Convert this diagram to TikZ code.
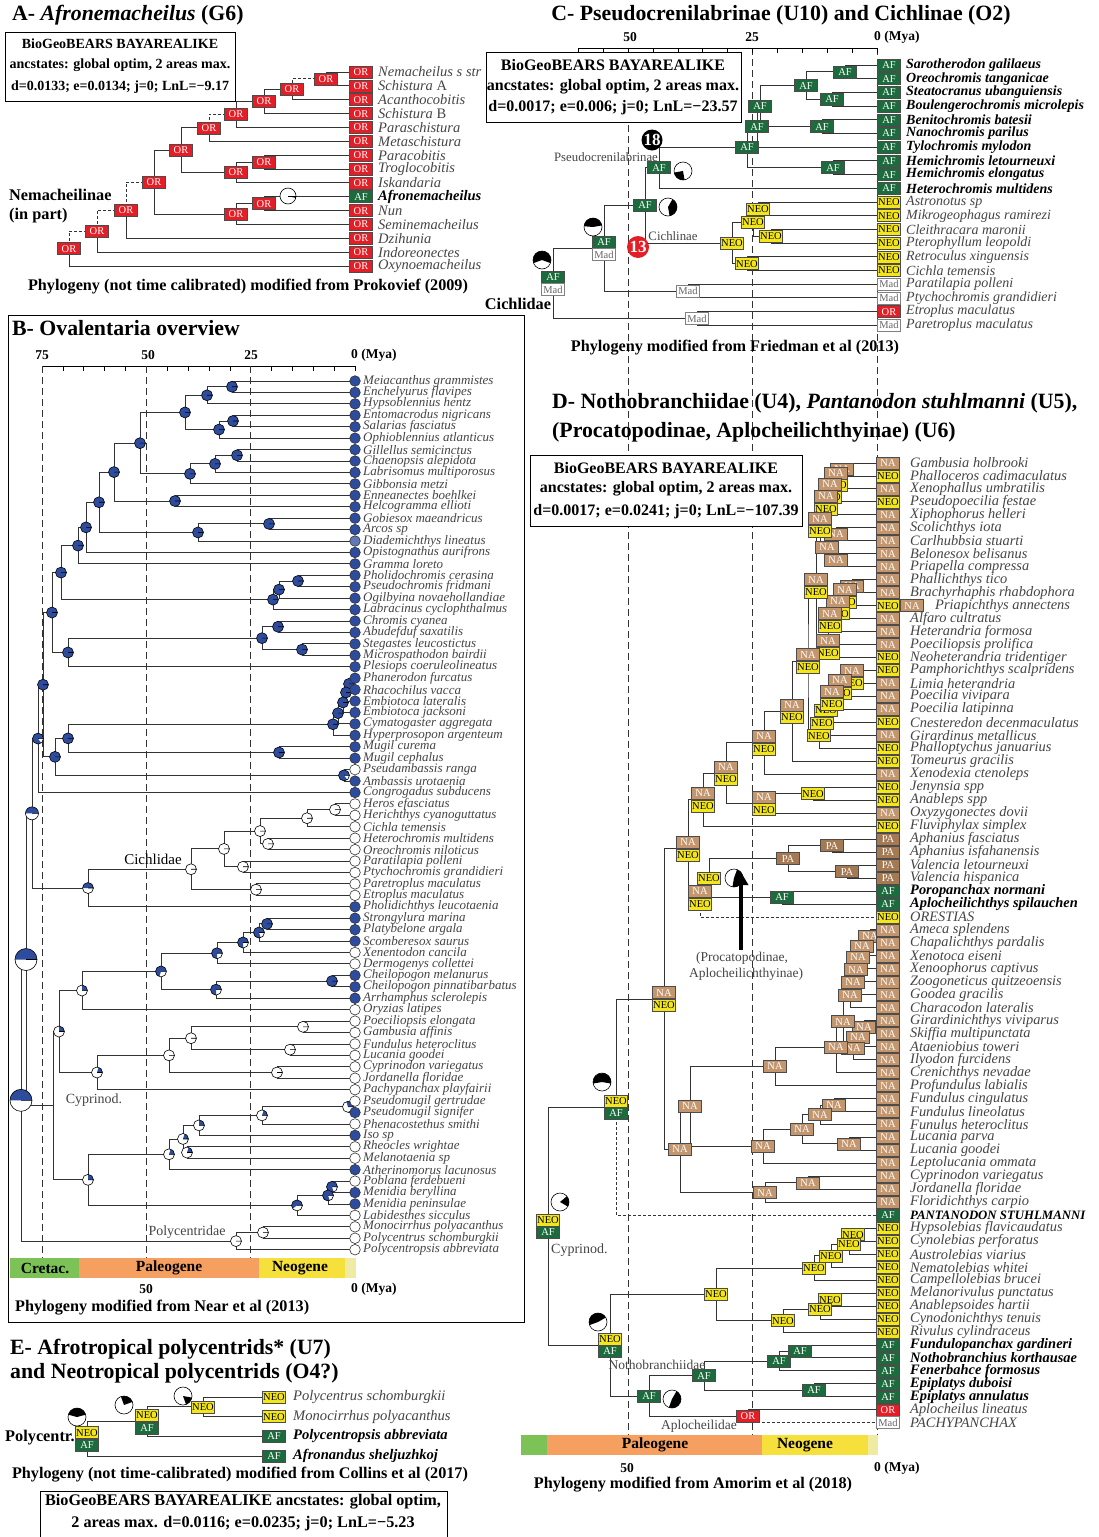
\documentclass[tikz,border=0pt]{standalone}
\usepackage{fontspec}
\setmainfont{Liberation Serif}
\usetikzlibrary{calc,arrows.meta}

% area colours
\definecolor{orred}{HTML}{E41E26}
\definecolor{afgreen}{HTML}{1B6B3C}
\definecolor{neoyel}{HTML}{F4E61C}
\definecolor{natan}{HTML}{C4966E}
\definecolor{pabrown}{HTML}{A57A52}
\definecolor{pieblue}{HTML}{2E4C9E}
\definecolor{tipgray}{HTML}{454545}
\definecolor{cretac}{HTML}{7DC257}
\definecolor{paleo}{HTML}{F5A060}
\definecolor{neog}{HTML}{F5E03C}
\definecolor{quat}{HTML}{F0EBA2}
\colorlet{tb}{pieblue}
\colorlet{tw}{white}
\colorlet{td}{pieblue!75!white}

\tikzset{
  tree/.style={line width=0.9pt, draw=black!80},
  dsh/.style={dash pattern=on 3pt off 2pt},
  timeline/.style={line width=0.7pt, draw=black!80, dash pattern=on 7pt off 4pt},
  sbox/.style={draw=black!70, line width=0.6pt, minimum width=23pt, minimum height=12pt,
    inner sep=0pt, font=\fontsize{10.5}{10.5}\selectfont},
  stOR/.style={sbox, fill=orred, text=white},
  stAF/.style={sbox, fill=afgreen, text=white},
  stNEO/.style={sbox, fill=neoyel, text=black},
  stNA/.style={sbox, fill=natan, text=white},
  stPA/.style={sbox, fill=pabrown, text=white},
  stMad/.style={sbox, fill=white, draw=black!50, text=black!60},
  tipA/.style={anchor=west, inner sep=0pt, text=tipgray, font=\fontsize{14.5}{14.5}\selectfont\itshape},
  tipB/.style={anchor=west, inner sep=0pt, text=tipgray, font=\fontsize{13}{13}\selectfont\itshape},
  tipC/.style={anchor=west, inner sep=0pt, text=tipgray, font=\fontsize{14}{14}\selectfont\itshape},
  tipD/.style={anchor=west, inner sep=0pt, text=tipgray, font=\fontsize{14.4}{14.4}\selectfont\itshape},
  tipE/.style={anchor=west, inner sep=0pt, text=tipgray, font=\fontsize{14.6}{14.6}\selectfont\itshape},
  title/.style={anchor=west, inner sep=0pt, font=\fontsize{21.8}{21.8}\selectfont\bfseries},
  caption/.style={inner sep=0pt, font=\fontsize{16.2}{16.2}\selectfont\bfseries},
  boxtxt/.style={inner sep=0pt, font=\fontsize{16}{16}\selectfont\bfseries},
  age/.style={inner sep=0pt, font=\fontsize{13.5}{13.5}\selectfont\bfseries},
  era/.style={inner sep=0pt, font=\fontsize{15.5}{15.5}\selectfont\bfseries},
  clade/.style={inner sep=0pt, text=tipgray, font=\fontsize{14}{14}\selectfont},
  bclade/.style={inner sep=0pt, text=black, font=\fontsize{16.3}{16.3}\selectfont\bfseries},
  smallclade/.style={inner sep=0pt, text=tipgray, font=\fontsize{12.8}{12.8}\selectfont},
}

% internal node halfway between its outer children, elbow branches to both
\newcommand{\ndx}[6]{%
  \path let \p1 = ($(#3)!.5!(#4)$) in (#2pt,\y1) coordinate (#1);
  \draw[tree,#5] (#3) -| (#1);
  \draw[tree,#6] (#1) |- (#4);
}
\newcommand{\nd}[4]{\ndx{#1}{#2}{#3}{#4}{}{}}
% internal node at a given height
\newcommand{\ndy}[5]{%
  \coordinate (#1) at (#2,#3);
  \draw[tree] (#4) -| (#1) |- (#5);
}
% range boxes
\newcommand{\stbox}[2]{\node[st#2] (#1-s) at (#1) {#2};}
\newcommand{\stpair}[3]{%
  \node[st#2, anchor=south] (#1-u) at (#1) {#2};
  \node[st#3, anchor=north] (#1-l) at (#1) {#3};}
% blue pie, blue part from east anticlockwise
\newcommand{\piebl}[3]{%
  \fill[white] (#1) circle (#2);
  \fill[pieblue] (#1) -- ++(0:#2) arc (0:360*#3:#2) -- cycle;
  \draw[line width=0.6pt] (#1) circle (#2) (#1) -- ++(0:#2);}
% black and white pie
\newcommand{\piebw}[4]{%
  \fill[white] (#1) circle (#2);
  \fill (#1) -- ++(#3:#2) arc (#3:#4:#2) -- cycle;
  \draw[line width=0.6pt] (#1) circle (#2);}
\newcommand{\boldsp}[1]{{\color{black}\bfseries #1}}

\begin{document}
\begin{tikzpicture}[x=1pt, y=-1pt]
\useasboundingbox (0,0) rectangle (1099,1537);
\fill[white] (0,0) rectangle (1099,1537);

%%%%%%%%%%%%%%%% panel A
\node[title] (titA) at (12,15) {A- \textit{Afronemacheilus} (G6)};
\draw[line width=0.8pt] (5,32) rectangle (235,101);
\node[boxtxt, font=\fontsize{14}{14}\selectfont\bfseries] (boxA1) at (120,44) {BioGeoBEARS BAYAREALIKE};
\node[boxtxt, font=\fontsize{14}{14}\selectfont\bfseries] (boxA2) at (120,65) {ancstates: global optim, 2 areas max.};
\node[boxtxt, font=\fontsize{14}{14}\selectfont\bfseries] (boxA3) at (120,87) {d=0.0133; e=0.0134; j=0; LnL=−9.17};

% tips
\foreach \nam [count=\i] in {Nemacheilus s str, {Schistura \upshape A}, Acanthocobitis,
  {Schistura \upshape B}, Paraschistura, Metaschistura, Paracobitis, Troglocobitis, Iskandaria,
  \boldsp{Afronemacheilus}, Nun, Seminemacheilus, Dzihunia, Indoreonectes, Oxynoemacheilus}{
  \coordinate (ta\i) at (361, {72+13.86*(\i-1)});
  \node[tipA] (la\i) at (378, {72+13.86*(\i-1)}) {\nam};
}

% tree
\nd{a1}{326}{ta1}{ta2}
\ndx{a2}{292}{a1}{ta3}{dsh}{}
\nd{a3}{264}{a2}{ta4}
\nd{a4}{236}{a3}{ta5}
\ndx{a5}{209}{a4}{ta6}{dsh}{}
\nd{a7}{264}{ta7}{ta8}
\nd{a8}{236}{a7}{ta9}
\nd{a6}{181}{a5}{a8}
\nd{a9}{264}{ta10}{ta11}
\nd{a10}{236}{a9}{ta12}
\nd{a11}{154}{a6}{a10}
\ndx{a12}{126}{a11}{ta13}{dsh}{}
\ndx{a13}{97}{a12}{ta14}{dsh}{}
\ndx{a14}{69}{a13}{ta15}{dsh}{}

\piebw{288,196}{8pt}{-14}{0}
\draw[line width=0.6pt] (288,196) -- ++(0:8pt);
\foreach \n in {a1,a2,a3,a4,a5,a6,a7,a8,a9,a10,a11,a12,a13,a14} {\stbox{\n}{OR}}
\foreach \sta [count=\i] in {OR,OR,OR,OR,OR,OR,OR,OR,OR,AF,OR,OR,OR,OR,OR}
  {\edef\boxcall{\noexpand\stbox{ta\i}{\sta}}\boxcall}

\node[bclade, anchor=west] (nemA) at (9,195) {Nemacheilinae};
\node[bclade, anchor=west] (nemB) at (9,216) {(in part)};
\node[caption] (capA) at (248,287) {Phylogeny (not time calibrated) modified from Prokovief (2009)};

%%%%%%%%%%%%%%%% time lines shared by panels C and D
\foreach \x in {628,752,877} \draw[timeline] (\x,48) -- (\x,1435);

%%%%%%%%%%%%%%%% panel C
\node[title, anchor=center] (titC) at (781,15) {C- Pseudocrenilabrinae (U10) and Cichlinae (O2)};
\draw[line width=0.8pt] (578,48) -- (877,48);
\foreach \i in {0,...,12} \draw[line width=0.6pt] ({877-\i*24.9},48) -- ++(0,5);
\node[age] (ageC50) at (630,37) {50};
\node[age] (ageC25) at (752,37) {25};
\node[age, anchor=west] (ageC0) at (874,37) {0 (Mya)};

\foreach \nam [count=\i] in {\boldsp{Sarotherodon galilaeus}, \boldsp{Oreochromis tanganicae},
  \boldsp{Steatocranus ubanguiensis}, \boldsp{Boulengerochromis microlepis}, \boldsp{Benitochromis batesii},
  \boldsp{Nanochromis parilus}, \boldsp{Tylochromis mylodon}, \boldsp{Hemichromis letourneuxi},
  \boldsp{Hemichromis elongatus}, \boldsp{Heterochromis multidens}, Astronotus sp, Mikrogeophagus ramirezi,
  Cleithracara maronii, Pterophyllum leopoldi, Retroculus xinguensis, Cichla temensis, Paratilapia polleni,
  Ptychochromis grandidieri, Etroplus maculatus, Paretroplus maculatus}{
  \coordinate (tc\i) at (889, {65+13.7*(\i-1)});
  \node[tipC] (lc\i) at (906, {65+13.7*(\i-1)}) {\nam};
}

\nd{c1}{845}{tc1}{tc2}
\nd{c2}{832}{tc3}{tc4}
\nd{c3}{806}{c1}{c2}
\nd{c5}{822}{tc5}{tc6}
\nd{c4}{760}{c3}{c5}
\nd{c7}{757}{c4}{tc7}
\nd{c6}{833}{tc8}{tc9}
\nd{c7b}{747}{c7}{c6}
\nd{c8}{659}{c7b}{tc10}
\nd{cA}{758}{tc11}{tc12}
\nd{cB}{771}{tc13}{tc14}
\nd{cC}{753}{cA}{cB}
\nd{cD}{747}{tc15}{tc16}
\nd{cE}{732}{cC}{cD}
\nd{c9}{645}{c8}{cE}
\nd{cM1}{688}{tc17}{tc18}
\nd{c10}{604}{c9}{cM1}
\nd{cM2}{697}{tc19}{tc20}
\nd{c11}{553}{c10}{cM2}

% info box
\draw[line width=0.8pt, fill=white] (486,52) rectangle (741,122);
\node[boxtxt] (boxC1) at (613,65) {BioGeoBEARS BAYAREALIKE};
\node[boxtxt] (boxC2) at (613,87) {ancstates: global optim, 2 areas max.};
\node[boxtxt] (boxC3) at (613,108) {d=0.0017; e=0.006; j=0; LnL=−23.57};

\foreach \n in {c1,c2,c3,c5,c4,c7,c6,c7b,c8,c9} {\stbox{\n}{AF}}
\foreach \n in {cA,cB,cC,cD,cE} {\stbox{\n}{NEO}}
\stbox{cM1}{Mad}
\stbox{cM2}{Mad}
\stpair{c10}{AF}{Mad}
\stpair{c11}{AF}{Mad}
\foreach \sta [count=\i] in {AF,AF,AF,AF,AF,AF,AF,AF,AF,AF,NEO,NEO,NEO,NEO,NEO,NEO,Mad,Mad,OR,Mad}
  {\edef\boxcall{\noexpand\stbox{tc\i}{\sta}}\boxcall}

\piebw{683,171}{9pt}{190}{280}
\piebw{668,207}{9pt}{-80}{60}
\piebw{593,227}{9pt}{10}{175}
\piebw{542,260}{9pt}{-20}{200}
\node[circle, fill=black, text=white, inner sep=0pt, minimum size=21pt,
  font=\fontsize{17}{17}\selectfont\bfseries] (m18) at (652,140) {18};
\node[circle, fill=orred, text=white, inner sep=0pt, minimum size=22pt,
  font=\fontsize{17}{17}\selectfont\bfseries] (m13) at (638,247) {13};
\node[smallclade] (pseudoL) at (606,157) {Pseudocrenilabrinae};
\node[smallclade] (cichlL) at (673,236) {Cichlinae};
\node[bclade] (cichC) at (518,304) {Cichlidae};
\node[caption] (capC) at (735,348) {Phylogeny modified from Friedman et al (2013)};

%%%%%%%%%%%%%%%% panel B
\draw[line width=0.8pt] (8,315) rectangle (524,1322);
\node[title] (titB) at (12,328) {B- Ovalentaria overview};
\draw[line width=0.8pt] (42,366) -- (355,366);
\foreach \i in {0,...,15} \draw[line width=0.6pt] ({42+\i*20.87},366) -- ++(0,5);
\node[age] (ageB75) at (42,355) {75};
\node[age] (ageB50) at (148,355) {50};
\node[age] (ageB25) at (251,355) {25};
\node[age, anchor=west] (ageB0) at (351,355) {0 (Mya)};
\foreach \x in {42,146,250} \draw[timeline] (\x,366) -- (\x,1258);

\foreach \nam [count=\i] in {Meiacanthus grammistes, Enchelyurus flavipes, Hypsoblennius hentz,
  Entomacrodus nigricans, Salarias fasciatus, Ophioblennius atlanticus, Gillellus semicinctus,
  Chaenopsis alepidota, Labrisomus multiporosus, Gibbonsia metzi, Enneanectes boehlkei, Helcogramma ellioti,
  Gobiesox maeandricus, Arcos sp, Diademichthys lineatus, Opistognathus aurifrons, Gramma loreto,
  Pholidochromis cerasina, Pseudochromis fridmani, Ogilbyina novaehollandiae, Labracinus cyclophthalmus,
  Chromis cyanea, Abudefduf saxatilis, Stegastes leucostictus, Microspathodon bairdii,
  Plesiops coeruleolineatus, Phanerodon furcatus, Rhacochilus vacca, Embiotoca lateralis,
  Embiotoca jacksoni, Cymatogaster aggregata, Hyperprosopon argenteum, Mugil curema, Mugil cephalus,
  Pseudambassis ranga, Ambassis urotaenia, Congrogadus subducens, Heros efasciatus,
  Herichthys cyanoguttatus, Cichla temensis, Heterochromis multidens, Oreochromis niloticus,
  Paratilapia polleni, Ptychochromis grandidieri, Paretroplus maculatus, Etroplus maculatus,
  Pholidichthys leucotaenia, Strongylura marina, Platybelone argala, Scomberesox saurus,
  Xenentodon cancila, Dermogenys collettei, Cheilopogon melanurus, Cheilopogon pinnatibarbatus,
  Arrhamphus sclerolepis, Oryzias latipes, Poeciliopsis elongata, Gambusia affinis,
  Fundulus heteroclitus, Lucania goodei, Cyprinodon variegatus, Jordanella floridae,
  Pachypanchax playfairii, Pseudomugil gertrudae, Pseudomugil signifer, Phenacostethus smithi, Iso sp,
  Rheocles wrightae, Melanotaenia sp, Atherinomorus lacunosus, Poblana ferdebueni, Menidia beryllina,
  Menidia peninsulae, Labidesthes sicculus, Monocirrhus polyacanthus, Polycentrus schomburgkii,
  Polycentropsis abbreviata}{
  \coordinate (tb\i) at (355, {381+11.43*(\i-1)});
  \node[tipB] (lb\i) at (363, {381+11.43*(\i-1)}) {\nam};
}

% blennies to pomacentrids
\nd{bU1}{232}{tb1}{tb2}
\nd{bU2}{207}{bU1}{tb3}
\nd{bU3}{233}{tb4}{tb5}
\nd{bU4}{219}{bU3}{tb6}
\nd{bU5}{185}{bU2}{bU4}
\nd{bU6}{237}{tb7}{tb8}
\nd{bU7}{215}{bU6}{tb9}
\nd{bU8}{190}{bU7}{tb10}
\nd{bU9}{140}{bU5}{bU8}
\nd{bU10}{175}{tb11}{tb12}
\nd{bU11}{114}{bU9}{bU10}
\nd{bU12}{269}{tb13}{tb14}
\nd{bU13}{198}{bU12}{tb15}
\nd{bU14}{99}{bU11}{bU13}
\nd{bU15}{86}{bU14}{tb16}
\nd{bU16}{78}{bU15}{tb17}
\nd{bU17}{298}{tb18}{tb19}
\nd{bU18}{279}{bU17}{tb20}
\nd{bU19}{273}{bU18}{tb21}
\nd{bU20}{61}{bU16}{bU19}
\nd{bU21}{278}{tb22}{tb23}
\nd{bU22}{302}{tb24}{tb25}
\nd{bU23}{262}{bU21}{bU22}
\nd{bU24}{68}{bU23}{tb26}
\nd{bU25}{52}{bU20}{bU24}
% surfperches, mullets, glassfishes
\nd{bE1}{349}{tb27}{tb28}
\nd{bE2}{346}{bE1}{tb29}
\nd{bE3}{343}{bE2}{tb30}
\nd{bE4}{338}{bE3}{tb31}
\nd{bE5}{333}{bE4}{tb32}
\nd{bMg}{279}{tb33}{tb34}
\nd{bE6}{68}{bE5}{bMg}
\nd{bAm}{344}{tb35}{tb36}
\nd{bE7}{55}{bE6}{bAm}
\nd{bU26}{43}{bU25}{bE7}
\nd{bU27}{38}{bU26}{tb37}
% cichlids
\nd{bL1}{335}{tb38}{tb39}
\nd{bL2}{307}{bL1}{tb40}
\nd{bL3}{268}{tb41}{tb42}
\nd{bL4}{260}{bL2}{bL3}
\nd{bL5}{243}{tb43}{tb44}
\nd{bL6}{224}{bL4}{bL5}
\nd{bL7}{256}{tb45}{tb46}
\nd{bL8}{191}{bL6}{bL7}
\nd{bL9}{88}{bL8}{tb47}
\nd{bU}{32}{bU27}{bL9}
% beloniforms
\nd{bM1}{267}{tb48}{tb49}
\nd{bM2}{259}{bM1}{tb50}
\nd{bM3}{243}{bM2}{tb51}
\nd{bM4}{217}{bM3}{tb52}
\nd{bM5}{332}{tb53}{tb54}
\nd{bM6}{216}{bM5}{tb55}
\nd{bM7}{161}{bM4}{bM6}
\nd{bM8}{82}{bM7}{tb56}
% cyprinodontiforms
\nd{bC1}{303}{tb57}{tb58}
\nd{bC2}{290}{tb59}{tb60}
\nd{bC3}{191}{bC1}{bC2}
\nd{bC4}{277}{tb61}{tb62}
\nd{bC5}{169}{bC3}{bC4}
\nd{bC6}{97}{bC5}{tb63}
\nd{bC7}{59}{bM8}{bC6}
% atheriniforms
\nd{bA1}{348}{tb64}{tb65}
\nd{bA2}{262}{bA1}{tb66}
\nd{bA3}{199}{bA2}{tb67}
\nd{bA4}{187}{tb68}{tb69}
\nd{bA5}{183}{bA3}{bA4}
\nd{bA6}{169}{bA5}{tb70}
\nd{bA7}{332}{tb71}{tb72}
\nd{bA8}{328}{bA7}{tb73}
\nd{bA9}{297}{bA8}{tb74}
\nd{bA10}{88}{bA6}{bA9}
\nd{bAth}{53}{bC7}{bA10}
% polycentrids and root
\nd{bP1}{263}{tb75}{tb76}
\nd{bP2}{236}{bP1}{tb77}
\nd{bO1}{26}{bU}{bAth}
\nd{bR}{21}{bO1}{bP2}

\foreach \n/\f in {bU1/1,bU2/1,bU3/1,bU4/1,bU5/1,bU6/1,bU7/1,bU8/1,bU9/1,bU10/1,bU11/1,bU12/1,bU13/1,
  bU14/1,bU15/1,bU16/1,bU17/1,bU18/1,bU19/1,bU20/1,bU21/1,bU22/1,bU23/1,bU24/1,bU25/1,bE1/1,bE2/1,
  bE3/1,bE4/1,bE5/1,bMg/1,bE6/1,bAm/0.85,bE7/1,bU26/1,bU27/0.85,bL1/0,bL2/0,bL3/0,bL4/0,bL5/0,bL6/0,
  bL7/0,bL8/0,bL9/0.5,bM1/1,bM2/0.8,bM3/0.75,bM4/0.75,bM5/1,bM6/0.75,bM7/0.7,bM8/0.25,bC1/0,bC2/0,
  bC3/0,bC4/0,bC5/0,bC6/0.2,bC7/0.25,bA1/0.3,bA2/0.2,bA3/0.25,bA4/0.2,bA5/0.2,bA6/0.2,bA7/0.8,
  bA8/0.8,bA9/0.6,bA10/0.25,bP1/0,bP2/0} {\piebl{\n}{5.5pt}{\f}}
\piebl{bU}{6.5pt}{0.5}
\piebl{bO1}{11pt}{0.5}
\piebl{bR}{11pt}{0.5}

\foreach \f [count=\i] in {tb,tb,tb,tb,tb,tb,tb,tb,tb,tb,tb,tb,tb,tb,td,tb,tb,tb,tb,tb,tb,tb,tb,tb,
  tb,tb,tb,tb,tb,tb,tb,tb,tb,tb,tw,tb,tb,tw,tw,tw,tw,tw,tw,tw,tw,tw,tb,tb,tb,tb,tw,tw,tb,tb,tb,
  tw,tw,tw,tw,tw,tw,tw,tw,tw,tb,tw,tb,tw,tw,tb,tw,tb,tb,tw,tw,tw,tw}
  {\filldraw[fill=\f, draw=black!80, line width=0.6pt] (tb\i) circle (5.3pt);}

\node[clade, text=black, font=\fontsize{15}{15}\selectfont] (cichB) at (153,859) {Cichlidae};
\node[clade] (cypB) at (94,1100) {Cyprinod.};
\node[clade] (polyB) at (187,1232) {Polycentridae};

% time scale
\fill[cretac] (10,1258) rectangle (79,1278);
\fill[paleo] (79,1258) rectangle (259,1278);
\fill[neog] (259,1258) rectangle (345,1278);
\fill[quat] (345,1258) rectangle (356,1278);
\node[era] (eraB1) at (45,1268) {Cretac.};
\node[era] (eraB2) at (169,1268) {Paleogene};
\node[era] (eraB3) at (300,1268) {Neogene};
\node[age] (ageB50b) at (146,1289) {50};
\node[age, anchor=west] (ageB0b) at (351,1289) {0 (Mya)};
\node[caption, anchor=west] (capB) at (15,1308) {Phylogeny modified from Near et al (2013)};

%%%%%%%%%%%%%%%% panel D
\node[title] (titD1) at (552,403) {D- Nothobranchiidae (U4), \textit{Pantanodon stuhlmanni} (U5),};
\node[title] (titD2) at (552,432) {(Procatopodinae, Aplocheilichthyinae) (U6)};

\foreach \nam [count=\i] in {Gambusia holbrooki, Phalloceros cadimaculatus, Xenophallus umbratilis,
  Pseudopoecilia festae, Xiphophorus helleri, Scolichthys iota, Carlhubbsia stuarti, Belonesox belisanus,
  Priapella compressa, Phallichthys tico, Brachyrhaphis rhabdophora, {\hspace*{25pt}Priapichthys annectens},
  Alfaro cultratus, Heterandria formosa, Poeciliopsis prolifica, Neoheterandria tridentiger,
  Pamphorichthys scalpridens, Limia heterandria, Poecilia vivipara, Poecilia latipinna,
  Cnesteredon decenmaculatus, Girardinus metallicus, Phalloptychus januarius, Tomeurus gracilis,
  Xenodexia ctenoleps, Jenynsia spp, Anableps spp, Oxyzygonectes dovii, Fluviphylax simplex,
  Aphanius fasciatus, Aphanius isfahanensis, Valencia letourneuxi, Valencia hispanica,
  \boldsp{Poropanchax normani}, \boldsp{Aplocheilichthys spilauchen}, ORESTIAS, Ameca splendens,
  Chapalichthys pardalis, Xenotoca eiseni, Xenoophorus captivus, Zoogoneticus quitzeoensis,
  Goodea gracilis, Characodon lateralis, Girardinichthys viviparus, Skiffia multipunctata,
  Ataeniobius toweri, Ilyodon furcidens, Crenichthys nevadae, Profundulus labialis, Fundulus cingulatus,
  Fundulus lineolatus, Funulus heteroclitus, Lucania parva, Lucania goodei, Leptolucania ommata,
  Cyprinodon variegatus, Jordanella floridae, Floridichthys carpio,
  {\fontsize{12.8}{12.8}\selectfont\boldsp{PANTANODON STUHLMANNI}},
  Hypsolebias flavicaudatus, Cynolebias perforatus, Austrolebias viarius, Nematolebias whitei,
  Campellolebias brucei, Melanorivulus punctatus, Anablepsoides hartii, Cynodonichthys tenuis,
  Rivulus cylindraceus, \boldsp{Fundulopanchax gardineri}, \boldsp{Nothobranchius korthausae},
  \boldsp{Fenerbahce formosus}, \boldsp{Epiplatys duboisi}, \boldsp{Epiplatys annulatus},
  Aplocheilus lineatus, PACHYPANCHAX}{
  \coordinate (td\i) at (888, {463+12.97*(\i-1)});
  \node[tipD] (ld\i) at (910, {463+12.97*(\i-1)}) {\nam};
}

% poeciliids
\nd{Dd1}{842}{td1}{td2}
\nd{Dd2}{836}{Dd1}{td3}
\nd{Dd3}{830}{Dd2}{td4}
\nd{Dd4}{826}{Dd3}{td5}
\nd{Dd5}{836}{td6}{td7}
\nd{Dd6}{836}{td8}{td9}
\nd{Dd7}{827}{Dd5}{Dd6}
\nd{Dd8}{820}{Dd4}{Dd7}
\nd{De1}{852}{td10}{td11}
\nd{De2}{845}{De1}{td12}
\nd{De3}{838}{De2}{td13}
\ndy{De4}{830}{620}{De3}{td14}
\ndy{De5}{828}{647}{De4}{td15}
\nd{Dh1}{816}{Dd8}{De5}
\nd{Df1}{852}{td17}{td18}
\nd{Df2}{840}{Df1}{td19}
\nd{Df3}{832}{Df2}{td20}
\nd{Df4}{826}{Df3}{td21}
\nd{Df5}{822}{Df4}{td22}
\nd{Df6}{819}{Df5}{td23}
\ndy{Dh2}{808}{661}{Dh1}{Df6}
\draw[tree] (Dh2) |- (td16);
\nd{Dh3}{792}{Dh2}{td24}
\nd{Dh4}{764}{Dh3}{td25}
\nd{Da1}{813}{td26}{td27}
\nd{Da2}{764}{Da1}{td28}
\nd{Dh5}{726}{Dh4}{Da2}
\nd{Dh6}{703}{Dh5}{td29}
% Aphanius, Valencia, procatopodines
\nd{Dq1}{832}{td30}{td31}
\nd{Dq2}{847}{td32}{td33}
\nd{Dq3}{788}{Dq1}{Dq2}
\nd{Dq4}{782}{td34}{td35}
\nd{Dq5}{709}{Dq3}{Dq4}
\ndx{Dq6}{700}{Dq5}{td36}{}{dsh}
\nd{Dr1}{688}{Dh6}{Dq6}
% goodeids and fundulids
\nd{Dg1}{870}{td37}{td38}
\nd{Dg2}{862}{Dg1}{td39}
\nd{Dg3}{858}{Dg2}{td40}
\nd{Dg4}{856}{Dg3}{td41}
\nd{Dg5}{853}{Dg4}{td42}
\nd{Dg9}{850}{Dg5}{td43}
\nd{Dg6}{864}{td44}{td45}
\nd{Dg7}{858}{Dg6}{td46}
\nd{Dg8}{853}{Dg7}{td47}
\nd{Dg10}{843}{Dg9}{Dg8}
\nd{DgN}{836}{Dg10}{td48}
\nd{DGD}{775}{DgN}{td49}
\nd{DF4}{834}{td50}{td51}
\nd{DF2}{820}{DF4}{td52}
\nd{DF3}{849}{td53}{td54}
\nd{DF1}{802}{DF2}{DF3}
\nd{DF}{763}{DF1}{td55}
\nd{DG1}{690}{DGD}{DF}
\nd{DC1}{808}{td56}{td57}
\nd{DC}{765}{DC1}{td58}
\nd{DG}{680}{DG1}{DC}
\nd{Dr2}{664}{Dr1}{DG}
\ndx{Dr3}{616}{Dr2}{td59}{}{dsh}
% rivulids
\nd{Dv1}{853}{td60}{td61}
\nd{Dv2}{849}{Dv1}{td62}
\nd{Dv3}{831}{Dv2}{td63}
\nd{Dv4}{814}{Dv3}{td64}
\nd{Dw1}{830}{td65}{td66}
\nd{Dw2}{820}{Dw1}{td67}
\nd{Dw3}{783}{Dw2}{td68}
\nd{Dr6}{716}{Dv4}{Dw3}
% nothobranchiids and aplocheilids
\nd{Dn1}{800}{td69}{td70}
\nd{Dn2}{779}{Dn1}{td71}
\nd{Dn3}{814}{td72}{td73}
\nd{Dn4}{704}{Dn2}{Dn3}
\ndx{Dap}{748}{td74}{td75}{}{dsh}
\nd{Dr7}{649}{Dn4}{Dap}
\nd{Dr5}{610}{Dr6}{Dr7}
\nd{Dr4}{548}{Dr3}{Dr5}

% info box
\draw[line width=0.8pt, fill=white] (530,455) rectangle (802,526);
\node[boxtxt] (boxD1) at (666,468) {BioGeoBEARS BAYAREALIKE};
\node[boxtxt] (boxD2) at (666,489) {ancstates: global optim, 2 areas max.};
\node[boxtxt] (boxD3) at (666,512) {d=0.0017; e=0.0241; j=0; LnL=−107.39};

\foreach \n in {Dd1,Dd5,Dd6,Dd7,De1,Dg1,Dg2,Dg3,Dg4,Dg5,Dg9,Dg6,Dg7,Dg8,Dg10,DgN,DGD,DF4,DF2,DF3,DF1,
  DF,DG1,DC1,DC,DG} {\stbox{\n}{NA}}
\foreach \n in {Df4,Df5,Df6,Da1,Dq5,Dv1,Dv2,Dv3,Dv4,Dw1,Dw2,Dw3,Dr6} {\stbox{\n}{NEO}}
\foreach \n in {Dq1,Dq2,Dq3} {\stbox{\n}{PA}}
\foreach \n in {Dq4,Dn1,Dn2,Dn3,Dn4,Dr7} {\stbox{\n}{AF}}
\stbox{Dap}{OR}
\foreach \n in {Dd2,Dd3,Dd4,Dd8,De2,De3,De4,De5,Dh1,Df1,Df2,Df3,Dh2,Dh3,Dh4,Da2,Dh5,Dh6,Dq6,Dr1,Dr2}
  {\stpair{\n}{NA}{NEO}}
\foreach \n in {Dr3,Dr4,Dr5} {\stpair{\n}{NEO}{AF}}
\foreach \sta [count=\i] in {NA,NEO,NA,NEO,NA,NA,NA,NA,NA,NA,NA,NEO,NA,NA,NA,NEO,NEO,NA,NA,NA,NEO,NA,NEO,
  NEO,NA,NEO,NEO,NA,NEO,PA,PA,PA,PA,AF,AF,NEO,NA,NA,NA,NA,NA,NA,NA,NA,NA,NA,NA,NA,NA,NA,NA,NA,NA,NA,NA,
  NA,NA,NA,AF,NEO,NEO,NEO,NEO,NEO,NEO,NEO,NEO,NEO,AF,AF,AF,AF,AF,OR,Mad}
  {\edef\boxcall{\noexpand\stbox{td\i}{\sta}}\boxcall}
\node[stNA] (td12b) at (912, {463+12.97*11}) {NA};

\piebw{734,878}{9pt}{-100}{70}
\piebw{602,1082}{9pt}{-10}{190}
\piebw{560,1202}{9pt}{-30}{40}
\piebw{598,1322}{9pt}{30}{200}
\piebw{672,1399}{9pt}{-110}{60}

% Procatopodinae pointer
\coordinate (arrTail) at (741,950);
\coordinate (arrHead) at (741,872);
\draw[line width=4.5pt, -{Triangle[width=14pt,length=13pt]}] (arrTail) -- (arrHead);
\node[smallclade, font=\fontsize{13.5}{13.5}\selectfont] (procL1) at (742,958) {(Procatopodinae,};
\node[smallclade, font=\fontsize{13.5}{13.5}\selectfont] (procL2) at (746,974) {Aplocheilichthyinae)};
\node[clade, anchor=west] (cypD) at (551,1250) {Cyprinod.};
\node[smallclade, font=\fontsize{13.5}{13.5}\selectfont] (nothoL) at (657,1365) {Nothobranchiidae};
\node[smallclade, font=\fontsize{13.5}{13.5}\selectfont] (aploL) at (699,1426) {Aplocheilidae};

% time scale
\fill[cretac] (521,1435) rectangle (547,1455);
\fill[paleo] (547,1435) rectangle (762,1455);
\fill[neog] (762,1435) rectangle (868,1455);
\fill[quat] (868,1435) rectangle (878,1455);
\node[era] (eraD2) at (655,1445) {Paleogene};
\node[era] (eraD3) at (805,1445) {Neogene};
\node[age] (ageD50) at (627,1468) {50};
\node[age, anchor=west] (ageD0) at (874,1468) {0 (Mya)};
\node[caption] (capD) at (693,1485) {Phylogeny modified from Amorim et al (2018)};

%%%%%%%%%%%%%%%% panel E
\node[title] (titE1) at (10,1349) {E- Afrotropical polycentrids* (U7)};
\node[title] (titE2) at (10,1373) {and Neotropical polycentrids (O4?)};
\foreach \nam [count=\i] in {Polycentrus schomburgkii, Monocirrhus polyacanthus,
  \boldsp{Polycentropsis abbreviata}, \boldsp{Afronandus sheljuzhkoj}}{
  \coordinate (te\i) at (274, {1397+19.7*(\i-1)});
  \node[tipE] (le\i) at (293, {1397+19.7*(\i-1)}) {\nam};
}
\nd{En1}{203}{te1}{te2}
\nd{En2}{147}{En1}{te3}
\nd{En3}{87}{En2}{te4}
\stbox{En1}{NEO}
\stpair{En2}{NEO}{AF}
\stpair{En3}{NEO}{AF}
\foreach \sta [count=\i] in {NEO,NEO,AF,AF}
  {\edef\boxcall{\noexpand\stbox{te\i}{\sta}}\boxcall}
\piebw{183,1396}{9pt}{-70}{-10}
\piebw{124,1405}{9pt}{20}{110}
\piebw{77,1417}{9pt}{15}{165}
\node[bclade] (polyE) at (40,1438) {Polycentr.};
\node[caption] (capE) at (240,1475) {Phylogeny (not time-calibrated) modified from Collins et al (2017)};
\draw[line width=0.8pt] (40,1545) -- (40,1491) -- (447,1491) -- (447,1545);
\node[boxtxt, font=\fontsize{16.2}{16.2}\selectfont\bfseries] (boxE1) at (243,1502) {BioGeoBEARS BAYAREALIKE ancstates: global optim,};
\node[boxtxt, font=\fontsize{16.2}{16.2}\selectfont\bfseries] (boxE2) at (243,1524) {2 areas max. d=0.0116; e=0.0235; j=0; LnL=−5.23};

\end{tikzpicture}
\end{document}
